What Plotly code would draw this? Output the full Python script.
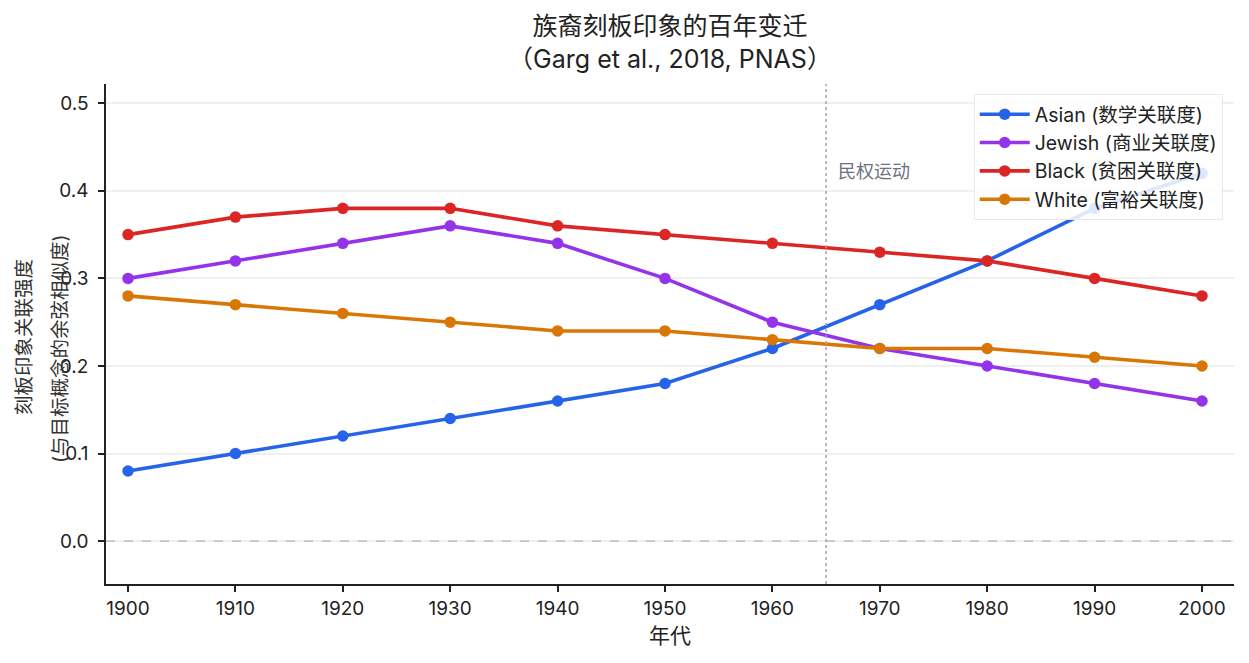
import plotly.graph_objects as go

years = [1900, 1910, 1920, 1930, 1940, 1950, 1960, 1970, 1980, 1990, 2000]
asian = [0.08, 0.10, 0.12, 0.14, 0.16, 0.18, 0.22, 0.27, 0.32, 0.38, 0.42]
jewish = [0.30, 0.32, 0.34, 0.36, 0.34, 0.30, 0.25, 0.22, 0.20, 0.18, 0.16]
black = [0.35, 0.37, 0.38, 0.38, 0.36, 0.35, 0.34, 0.33, 0.32, 0.30, 0.28]
white = [0.28, 0.27, 0.26, 0.25, 0.24, 0.24, 0.23, 0.22, 0.22, 0.21, 0.20]

series_names = ['Asian (数学关联度)', 'Jewish (商业关联度)', 'Black (贫困关联度)', 'White (富裕关联度)']
colors = ['#2563eb', '#9333ea', '#dc2626', '#d97706']

y_ticks = [0.0, 0.1, 0.2, 0.3, 0.4, 0.5]
civil_rights_year = 1965
civil_rights_label = '民权运动'

font_family = 'Inter, Noto Sans CJK SC, sans-serif'

# plot area in pixels (matches the reference)
W, H = 1249, 663
L, R, T, B = 106, 15, 84, 79
pw = W - L - R

fig = go.Figure()
for name, ys, c in zip(series_names, [asian, jewish, black, white], colors):
    fig.add_trace(go.Scatter(x=years, y=ys, name=name, mode='lines+markers',
                             legendgroup=name,
                             line=dict(color=c, width=3.6),
                             marker=dict(color=c, size=11.5)))

# zero line and civil rights marker
fig.add_hline(y=0, line=dict(color='#b5b5b5', width=1.3, dash='dash'))
fig.add_vline(x=civil_rights_year, line=dict(color='#a5a5a5', width=1.5, dash='dot'))
fig.add_annotation(x=civil_rights_year, y=0.422, text=civil_rights_label,
                   xanchor='left', xshift=10, showarrow=False,
                   font=dict(size=18, color='#6b7280'))

# y label as two rotated lines, like the reference
ylab_lines = ['刻板印象关联强度', '(与目标概念的余弦相似度)']
for txt, px, py in zip(ylab_lines, [24, 60], [337, 348]):
    fig.add_annotation(text=txt, textangle=-90, showarrow=False,
                       xref='paper', yref='paper',
                       x=(px - L) / pw, y=1 - (py - T) / (H - T - B),
                       xanchor='center', yanchor='middle',
                       font=dict(size=19.5, color='#333333'))

fig.update_layout(
    width=W, height=H,
    paper_bgcolor='white', plot_bgcolor='white',
    font=dict(family=font_family, size=19, color='#222222'),
    title=dict(text='族裔刻板印象的百年变迁<br>（Garg et al., 2018, PNAS）',
               x=0.5, xanchor='center', xref='paper',
               yref='container', y=1 - 35 / H, yanchor='middle',
               font=dict(size=25, color='#222222')),
    margin=dict(l=L, r=R, t=T, b=B),
    showlegend=True,
    legend=dict(x=0.990, y=0.98, xanchor='right', yanchor='top',
                bgcolor='rgba(255,255,255,0.85)', bordercolor='#e8e8e8',
                borderwidth=1, font=dict(size=19.5), tracegroupgap=0,
                itemwidth=50),
)

fig.update_xaxes(range=[1897.95, 2002.98], tickvals=years,
                 automargin=False,
                 showline=True, linecolor='#222222', linewidth=1.5,
                 ticks='outside', ticklen=6, tickcolor='#222222', tickwidth=1.5,
                 showgrid=False, zeroline=False,
                 tickfont=dict(size=19),
                 title=dict(text='年代', font=dict(size=21), standoff=10))
fig.update_yaxes(range=[-0.049, 0.522], tickvals=y_ticks,
                 ticktext=['%.1f' % v for v in y_ticks],
                 automargin=False,
                 showline=True, linecolor='#222222', linewidth=1.5,
                 ticks='outside', ticklen=6, tickcolor='#222222', tickwidth=1.5,
                 ticklabelstandoff=6,
                 showgrid=True, gridcolor='#efefef', gridwidth=2, zeroline=False,
                 tickfont=dict(size=19))

fig.write_html("out.html", config={'displayModeBar': False},
               post_script="document.body.style.margin='0';")
